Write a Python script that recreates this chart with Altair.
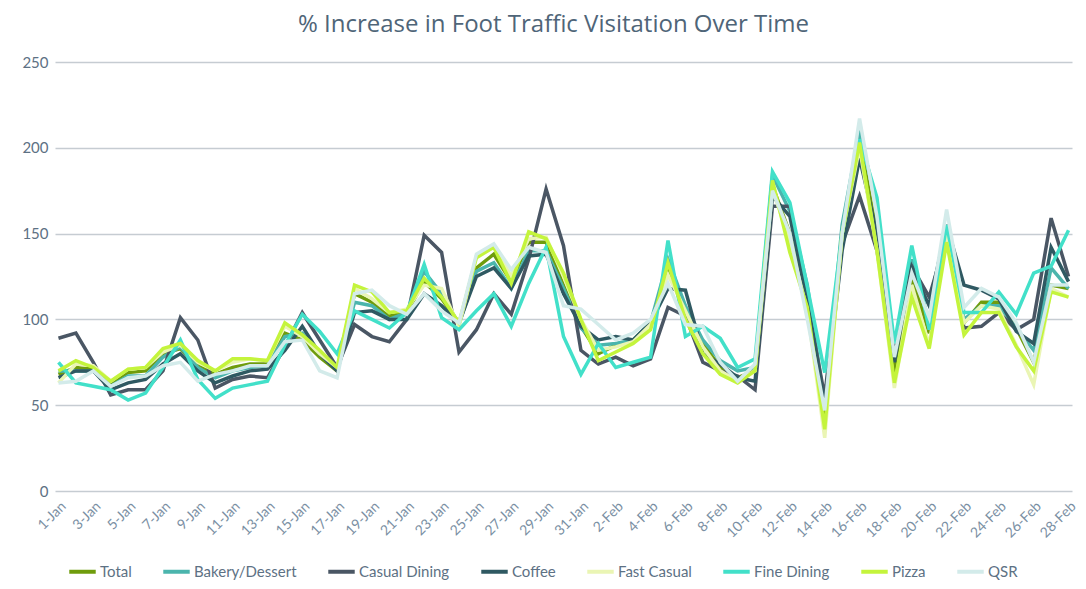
import altair as alt
import pandas as pd

days = [f"{d}-Jan" for d in range(1, 32)] + [f"{d}-Feb" for d in range(1, 29)]

series_names = ["Total", "Bakery/Dessert", "Casual Dining", "Coffee",
                "Fast Casual", "Fine Dining", "Pizza", "QSR"]
series_colors = ["#6f9c0c", "#4bb5ad", "#4a5664", "#2f5962",
                 "#eaf5b4", "#42e0c9", "#c4f43c", "#d3ebea"]

total = [68, 72, 71, 63, 69, 70, 80, 83, 73, 68,
         72, 74, 74, 92, 88, 78, 70, 115, 110, 102,
         104, 122, 112, 98, 130, 138, 122, 145, 145, 120,
         96, 80, 85, 88, 98, 128, 104, 86, 72, 66,
         70, 178, 150, 110, 45, 150, 205, 150, 68, 125,
         92, 150, 98, 110, 110, 95, 75, 120, 118]
bakery = [70, 70, 70, 61, 67, 67, 78, 84, 72, 66,
          70, 72, 73, 90, 92, 80, 71, 110, 108, 100,
          104, 128, 115, 97, 128, 133, 118, 140, 140, 118,
          95, 85, 86, 88, 98, 135, 108, 88, 76, 70,
          72, 184, 163, 120, 50, 155, 210, 165, 80, 135,
          98, 155, 100, 108, 108, 95, 82, 130, 118]
casual = [89, 92, 75, 56, 59, 59, 70, 101, 88, 60,
          65, 67, 66, 84, 104, 88, 72, 97, 90, 87,
          100, 149, 139, 81, 94, 115, 103, 135, 176, 143,
          82, 74, 78, 73, 77, 107, 102, 75, 70, 67,
          59, 166, 166, 110, 55, 144, 172, 140, 80, 131,
          113, 148, 95, 96, 104, 94, 100, 159, 125]
coffee = [66, 70, 70, 59, 63, 65, 74, 80, 70, 63,
          67, 70, 71, 82, 96, 80, 70, 104, 105, 100,
          100, 115, 108, 98, 125, 130, 118, 137, 138, 115,
          96, 88, 90, 88, 98, 118, 117, 80, 74, 66,
          64, 172, 160, 110, 50, 140, 194, 150, 75, 130,
          108, 155, 120, 117, 112, 93, 86, 142, 122]
fast_casual = [63, 74, 73, 64, 71, 72, 81, 85, 75, 70,
               75, 77, 76, 96, 90, 80, 72, 118, 112, 104,
               106, 120, 118, 96, 137, 143, 125, 147, 148, 125,
               100, 82, 84, 87, 97, 126, 105, 84, 70, 64,
               70, 176, 145, 105, 31, 150, 200, 140, 60, 120,
               85, 150, 98, 108, 106, 85, 62, 118, 113]
fine_dining = [75, 63, 61, 59, 53, 57, 72, 88, 65, 54,
               60, 62, 64, 85, 103, 93, 80, 105, 100, 95,
               104, 132, 101, 94, 105, 115, 96, 121, 142, 90,
               68, 86, 72, 75, 78, 146, 90, 96, 89, 72,
               77, 186, 168, 119, 69, 150, 205, 171, 86, 143,
               94, 155, 104, 104, 116, 103, 127, 131, 152]
pizza = [70, 76, 72, 64, 71, 72, 83, 86, 76, 70,
         77, 77, 76, 98, 91, 82, 72, 120, 116, 104,
         105, 124, 113, 98, 136, 142, 121, 151, 147, 127,
         100, 76, 81, 86, 94, 133, 100, 80, 68, 63,
         70, 181, 139, 107, 36, 150, 203, 140, 63, 113,
         83, 145, 91, 104, 104, 84, 70, 116, 113]
qsr = [63, 64, 70, 61, 66, 67, 73, 75, 64, 68,
       70, 73, 73, 87, 88, 70, 66, 115, 117, 108,
       103, 115, 105, 98, 138, 144, 129, 142, 139, 108,
       106, 97, 88, 92, 100, 121, 97, 96, 75, 64,
       74, 175, 150, 100, 47, 150, 217, 160, 78, 127,
       101, 164, 107, 118, 113, 98, 75, 120, 120]

all_values = [total, bakery, casual, coffee, fast_casual, fine_dining, pizza, qsr]

rows = []
for name, vals in zip(series_names, all_values):
    for i, (d, v) in enumerate(zip(days, vals)):
        rows.append({"Day": d, "Idx": i, "Category": name, "Value": v})
df = pd.DataFrame(rows)

FONT = "Lato"

chart = alt.Chart(df).mark_line(strokeWidth=3.5, strokeJoin="miter").encode(
    x=alt.X("Day:O", sort=days,
            scale=alt.Scale(type="point", padding=0.2),
            axis=alt.Axis(title=None, values=days[::2], labelAngle=-45,
                          labelFont=FONT, labelFontSize=14, labelColor="#7a8fa3",
                          ticks=False, domain=False, labelPadding=8, grid=False)),
    y=alt.Y("Value:Q", scale=alt.Scale(domain=[0, 250]),
            axis=alt.Axis(title=None, values=[0, 50, 100, 150, 200, 250],
                          labelFont=FONT, labelFontSize=15, labelColor="#5d7184",
                          ticks=False, domain=False, labelPadding=7,
                          grid=True, gridColor="#c6ccd2", gridWidth=1.5)),
    color=alt.Color("Category:N", sort=series_names,
                    scale=alt.Scale(domain=series_names, range=series_colors),
                    legend=alt.Legend(title=None, orient="none", direction="horizontal",
                                      legendX=12, legendY=494,
                                      symbolType="stroke", symbolStrokeWidth=4,
                                      symbolSize=700, columnPadding=23,
                                      labelFont=FONT, labelFontSize=15,
                                      labelColor="#5d7184", labelOffset=2)),
    order=alt.Order("Idx:Q"),
).properties(
    width=1017,
    height=429,
    title=alt.TitleParams("% Increase in Foot Traffic Visitation Over Time",
                          font="Open Sans", fontSize=24, fontWeight="normal",
                          color="#4f6578", anchor="middle", frame="group",
                          dx=-10, offset=18),
    autosize=alt.AutoSizeParams(type="none"),
    padding={"left": 47, "top": 54, "right": 6, "bottom": 90},
).configure_view(stroke=None)

chart.save("out.html", embed_options={"renderer": "svg", "actions": False})
